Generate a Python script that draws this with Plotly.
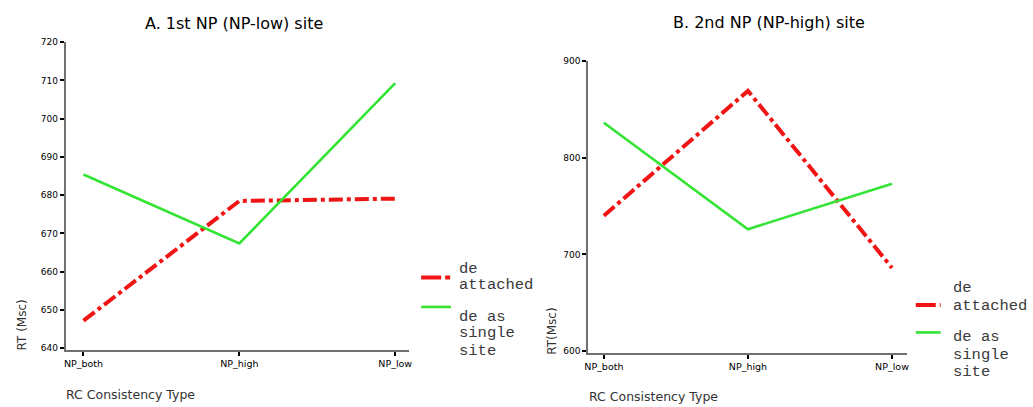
import plotly.graph_objects as go

# ---------------- data ----------------
categories = ["NP_both", "NP_high", "NP_low"]
a_attached = [647.2, 678.5, 679.1]
a_single = [685.4, 667.4, 709.3]
b_attached = [740, 869, 686]
b_single = [836, 726, 773]
series_names = ["de attached", "de as single site"]
panel_titles = ["A. 1st NP (NP-low) site", "B. 2nd NP (NP-high) site"]
a_yticks = [640, 650, 660, 670, 680, 690, 700, 710, 720]
b_yticks = [600, 700, 800, 900]
x_title = "RC Consistency Type"
y_titles = ["RT (Msc)", "RT(Msc)"]

# ---------------- style ----------------
W, H = 1033, 407
RED = "#f01414"
GREEN = "#33e433"
RED_DASH = "14px,4px,4px,4px"
FONT = "DejaVu Sans"
MONO = "Liberation Mono"


def px(x):
    return x / W


def py(y):
    return 1 - y / H


fig = go.Figure()

fig.add_trace(go.Scatter(x=categories, y=a_attached, mode="lines", name=series_names[0],
                         line=dict(color=RED, width=4, dash=RED_DASH),
                         xaxis="x", yaxis="y", showlegend=False))
fig.add_trace(go.Scatter(x=categories, y=a_single, mode="lines", name=series_names[1],
                         line=dict(color=GREEN, width=2.6),
                         xaxis="x", yaxis="y", showlegend=False))
fig.add_trace(go.Scatter(x=categories, y=b_attached, mode="lines", name=series_names[0],
                         line=dict(color=RED, width=4, dash=RED_DASH),
                         xaxis="x2", yaxis="y2", showlegend=False))
fig.add_trace(go.Scatter(x=categories, y=b_single, mode="lines", name=series_names[1],
                         line=dict(color=GREEN, width=2.6),
                         xaxis="x2", yaxis="y2", showlegend=False))

xcommon = dict(type="category", showgrid=False, zeroline=False, showline=True,
               linecolor="#707070", linewidth=1.5, ticks="outside", ticklen=4,
               tickwidth=2, tickcolor="black",
               tickfont=dict(family=FONT, size=9.5, color="black"), fixedrange=True)
ycommon = dict(showgrid=False, zeroline=False, showline=True, linecolor="#707070",
               linewidth=1.5, ticks="outside", ticklen=4, tickwidth=2,
               tickcolor="black", tickfont=dict(family=FONT, size=9, color="black"),
               fixedrange=True)

fig.update_layout(
    width=W, height=H,
    margin=dict(l=0, r=0, t=0, b=0),
    paper_bgcolor="white", plot_bgcolor="white",
    xaxis=dict(domain=[px(62), px(408)], range=[-0.115, 2.09], anchor="y", **xcommon),
    yaxis=dict(domain=[py(352), py(38)], range=[639.5, 720], anchor="x",
               tickvals=a_yticks, **ycommon),
    xaxis2=dict(domain=[px(588), px(909)], range=[-0.11, 2.103], anchor="y2", **xcommon),
    yaxis2=dict(domain=[py(355), py(57)], range=[598, 900], anchor="x2",
                tickvals=b_yticks, **ycommon),
)

ann = []
# panel titles
ann.append(dict(text=panel_titles[0], x=px(232), y=py(19), xref="paper", yref="paper",
                showarrow=False, font=dict(family=FONT, size=16, color="black"),
                xanchor="center", yanchor="middle"))
ann.append(dict(text=panel_titles[1], x=px(770), y=py(18), xref="paper", yref="paper",
                showarrow=False, font=dict(family=FONT, size=16, color="black"),
                xanchor="center", yanchor="middle"))
# axis titles
ann.append(dict(text=x_title, x=px(60), y=py(397), xref="paper", yref="paper",
                showarrow=False, font=dict(family=FONT, size=12.5, color="#333"),
                xanchor="left", yanchor="middle"))
ann.append(dict(text=x_title, x=px(587), y=py(399), xref="paper", yref="paper",
                showarrow=False, font=dict(family=FONT, size=12.5, color="#333"),
                xanchor="left", yanchor="middle"))
ann.append(dict(text=y_titles[0], x=px(18), y=py(326), xref="paper", yref="paper",
                showarrow=False, textangle=-90, font=dict(family=FONT, size=12, color="#333"),
                xanchor="center", yanchor="middle"))
ann.append(dict(text=y_titles[1], x=px(552), y=py(333), xref="paper", yref="paper",
                showarrow=False, textangle=-90, font=dict(family=FONT, size=12, color="#333"),
                xanchor="center", yanchor="middle"))

# manual legends
legend_specs = [
    dict(x0=420, x1=450, ry=278, gy=308, tx=456,
         red_lines=[("de", 269), ("attached", 286)],
         green_lines=[("de as", 318), ("single", 335), ("site", 353)]),
    dict(x0=918, x1=943, ry=306, gy=334, tx=953,
         red_lines=[("de", 289), ("attached", 307)],
         green_lines=[("de as", 339), ("single", 357), ("site", 374)]),
]
shapes = []
for spec in legend_specs:
    shapes.append(dict(type="line", xref="paper", yref="paper",
                       x0=px(spec["x0"]), x1=px(spec["x1"]),
                       y0=py(spec["ry"]), y1=py(spec["ry"]),
                       line=dict(color=RED, width=4, dash="20px,4px,5px,4px")))
    shapes.append(dict(type="line", xref="paper", yref="paper",
                       x0=px(spec["x0"]), x1=px(spec["x1"]),
                       y0=py(spec["gy"]), y1=py(spec["gy"]),
                       line=dict(color=GREEN, width=2.6)))
    for txt, yy in spec["red_lines"] + spec["green_lines"]:
        ann.append(dict(text=txt, x=px(spec["tx"]), y=py(yy), xref="paper", yref="paper",
                        showarrow=False, font=dict(family=MONO, size=15.5, color="#3a3a3a"),
                        xanchor="left", yanchor="middle"))

fig.update_layout(annotations=ann, shapes=shapes)

fig.write_html("out.html")
